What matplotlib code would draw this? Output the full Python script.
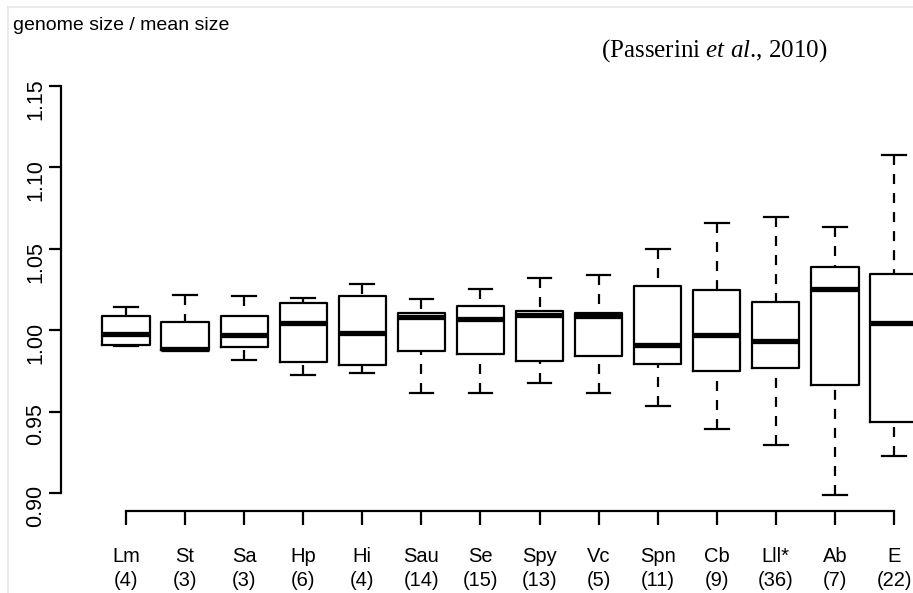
import matplotlib
matplotlib.use("Agg")
import matplotlib.pyplot as plt
import matplotlib.transforms as mtransforms
from matplotlib.lines import Line2D

# Dados (genome size / mean size)
labels = ['Lm', 'St', 'Sa', 'Hp', 'Hi', 'Sau', 'Se', 'Spy', 'Vc', 'Spn', 'Cb', 'Lll*', 'Ab', 'E']
counts = [4, 3, 3, 6, 4, 14, 15, 13, 5, 11, 9, 36, 7, 22]
whisker_hi = [1.0141, 1.0216, 1.0208, 1.0200, 1.0284, 1.0193, 1.0255, 1.0319, 1.0341, 1.0497, 1.0660, 1.0695, 1.0636, 1.1078]
q3 = [1.0087, 1.0052, 1.0087, 1.0165, 1.0210, 1.0104, 1.0149, 1.0120, 1.0104, 1.0271, 1.0245, 1.0173, 1.0390, 1.0345]
med = [0.9979, 0.9887, 0.9969, 1.0046, 0.9985, 1.0079, 1.0069, 1.0096, 1.0089, 0.9909, 0.9972, 0.9932, 1.0253, 1.0042]
q1 = [0.9909, 0.9880, 0.9895, 0.9805, 0.9786, 0.9874, 0.9854, 0.9811, 0.9843, 0.9792, 0.9748, 0.9766, 0.9665, 0.9438]
whisker_lo = [0.9901, 0.9880, 0.9819, 0.9727, 0.9739, 0.9616, 0.9613, 0.9674, 0.9616, 0.9534, 0.9391, 0.9297, 0.8990, 0.9227]
yticks = [0.90, 0.95, 1.00, 1.05, 1.10, 1.15]

plt.rcParams['font.family'] = ['Liberation Sans', 'DejaVu Sans']
plt.rcParams['lines.scale_dashes'] = False
plt.rcParams['mathtext.fontset'] = 'custom'
plt.rcParams['mathtext.rm'] = 'Liberation Serif'
plt.rcParams['mathtext.it'] = 'Liberation Serif:italic'

W, H = 913, 593
fig = plt.figure(figsize=(W / 100, H / 100), dpi=100)
ax = fig.add_axes([61 / W, 1 - 511 / H, 1 - 61 / W, (511 - 86) / H])

positions = list(range(1, len(labels) + 1))
stats = []
for i in range(len(labels)):
    stats.append({'whislo': whisker_lo[i], 'q1': q1[i], 'med': med[i],
                  'q3': q3[i], 'whishi': whisker_hi[i], 'fliers': []})

lw = 1.6
res = ax.bxp(stats, positions=positions, widths=0.8, capwidths=0.4,
             showfliers=False,
             boxprops=dict(color='black', linewidth=lw),
             medianprops=dict(color='black', linewidth=3.8, solid_capstyle='butt'),
             whiskerprops=dict(color='black', linewidth=lw, linestyle=(0, (7.2, 6.5))),
             capprops=dict(color='black', linewidth=lw))

# tracejado começa na ponta do bigode, como no R
for wl in res['whiskers']:
    xs, ys = wl.get_data()
    wl.set_data(list(xs)[::-1], list(ys)[::-1])

ax.set_xlim(1 - 65 / 59.08, 14 + 19 / 59.08)
ax.set_ylim(0.8889, 1.15)

ax.spines['top'].set_visible(False)
ax.spines['right'].set_visible(False)
ax.spines['left'].set_bounds(0.90, 1.15)
ax.spines['bottom'].set_bounds(1, 14)
ax.spines['left'].set_linewidth(lw)
ax.spines['bottom'].set_linewidth(lw)

ax.set_yticks(yticks)
ax.set_yticklabels([f'{v:.2f}' for v in yticks], fontsize=15.5)
ax.tick_params(axis='y', labelrotation=90, length=8.5, width=lw, pad=2)
ax.set_xticks(positions)
ax.set_xticklabels([''] * len(labels))
ax.tick_params(axis='x', length=10, width=lw)

trans = mtransforms.blended_transform_factory(ax.transData, fig.transFigure)
for p, lab, n in zip(positions, labels, counts):
    ax.text(p, 1 - 562 / H, lab, transform=trans, ha='center', va='baseline',
            fontsize=14.5, clip_on=False)
    ax.text(p, 1 - 586 / H, f'({n})', transform=trans, ha='center', va='baseline',
            fontsize=14.5, clip_on=False)

fig.text(13 / W, 1 - 30 / H, 'genome size / mean size', fontsize=14, va='baseline')
fig.text(714 / W, 1 - 57 / H, r'(Passerini $et$ $al$., 2010)', family='Liberation Serif',
         fontsize=18, ha='center', va='baseline')

# moldura cinza clara da captura
fig.add_artist(Line2D([8 / W, 1], [1 - 7 / H, 1 - 7 / H], transform=fig.transFigure,
                      color='#e4e8ee', lw=1.2))
fig.add_artist(Line2D([8 / W, 8 / W], [0, 1 - 7 / H], transform=fig.transFigure,
                      color='#e4e8ee', lw=1.2))

fig.savefig('out.png', dpi=100)
